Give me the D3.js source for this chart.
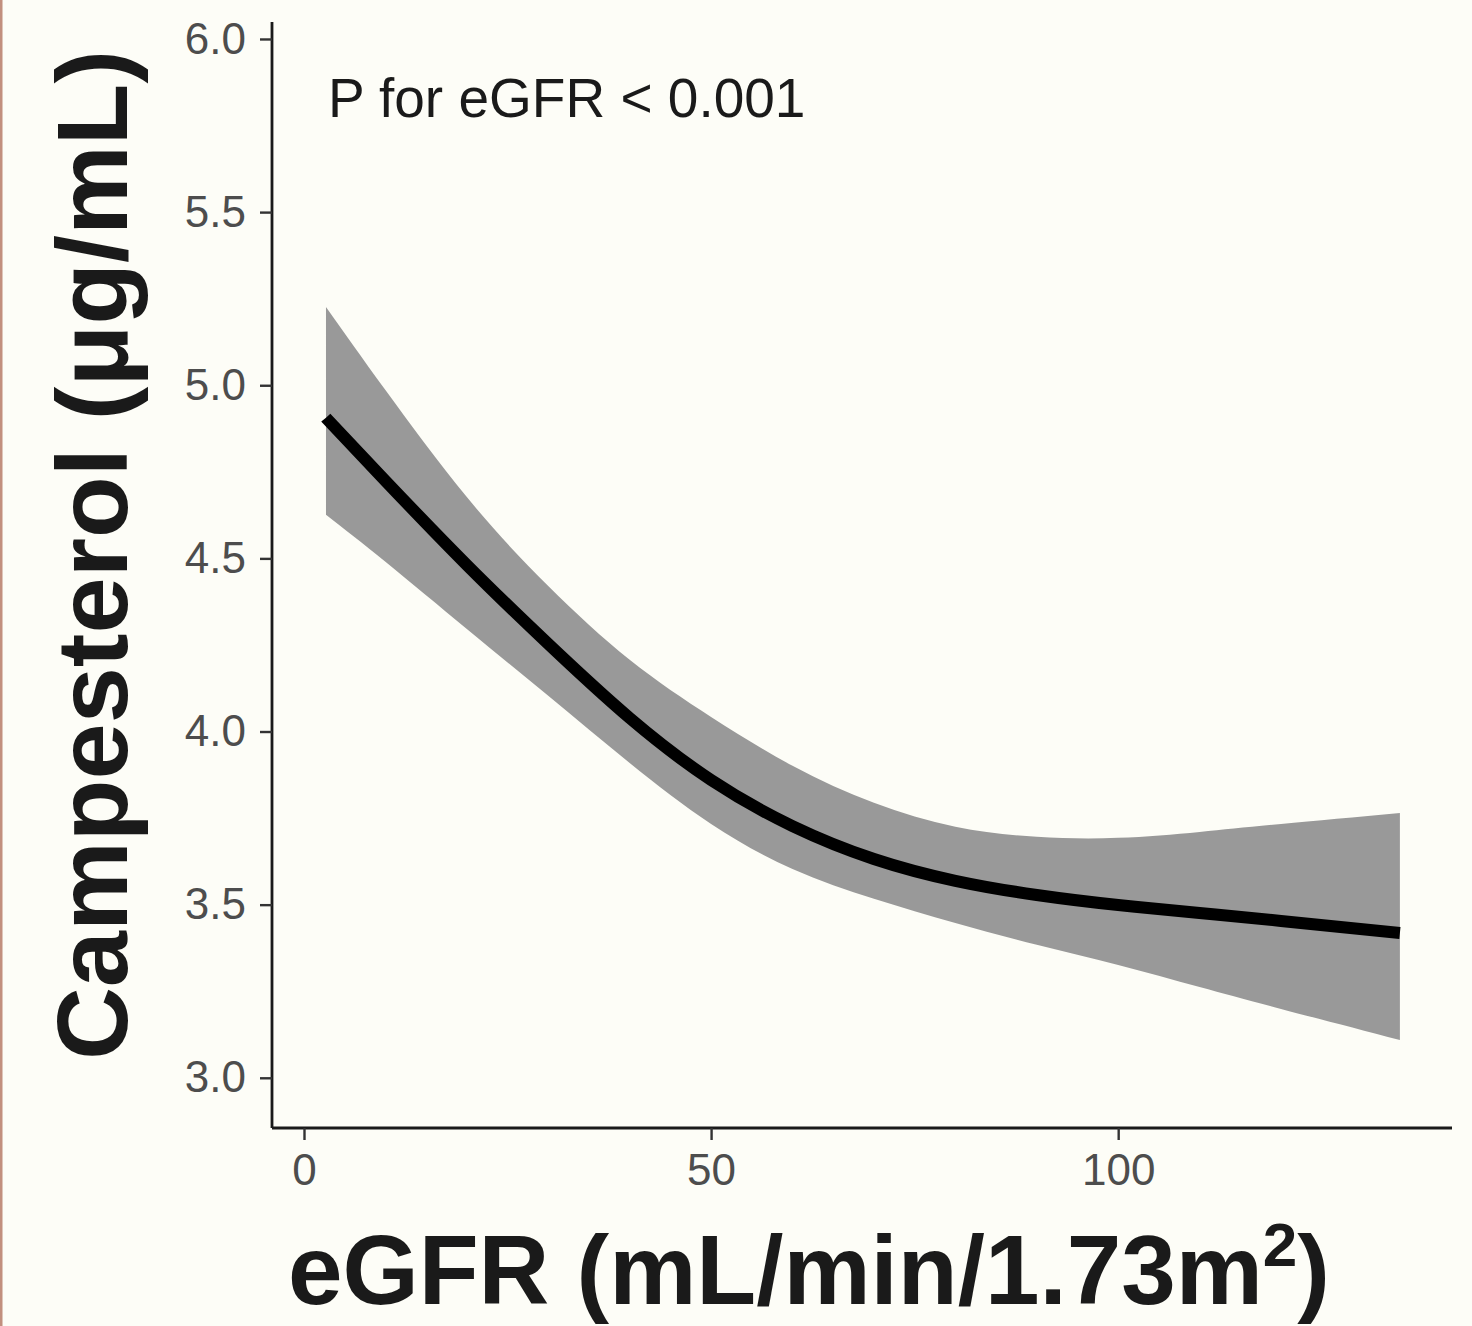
<!DOCTYPE html>
<html>
<head>
<meta charset="utf-8">
<script src="https://cdn.jsdelivr.net/npm/d3@7"></script>
<style>
  html, body { margin: 0; padding: 0; background: #fdfdf7; }
  svg { display: block; font-family: "Liberation Sans", Arial, sans-serif; }
</style>
</head>
<body>
<div id="chart"></div>
<script>
// eGFR grid and fitted campesterol values
const egfr = [2.7, 10, 20, 30, 40, 50, 60, 70, 80, 90, 100, 110, 120, 134.6];
const fit = [4.906, 4.724, 4.481, 4.253, 4.039, 3.860, 3.727, 3.632, 3.569, 3.528, 3.499, 3.476, 3.453, 3.418];
const upper = [5.226, 4.986, 4.677, 4.420, 4.207, 4.042, 3.901, 3.794, 3.725, 3.696, 3.693, 3.710, 3.733, 3.765];
const lower = [4.626, 4.490, 4.296, 4.103, 3.909, 3.733, 3.603, 3.517, 3.447, 3.384, 3.326, 3.262, 3.199, 3.109];

const xTicks = [0, 50, 100];
const yTicks = [3.0, 3.5, 4.0, 4.5, 5.0, 5.5, 6.0];

const width = 1472;
const height = 1326;
const panel = { left: 272, right: 1452, top: 22, bottom: 1128 };

const rows = egfr.map((e, i) => ({ e, fit: fit[i], lo: lower[i], hi: upper[i] }));

const x = d3.scaleLinear().domain([-3.93, 141.0]).range([panel.left, panel.right]);
const y = d3.scaleLinear().domain([2.855, 6.049]).range([panel.bottom, panel.top]);

const svg = d3.select("#chart")
  .append("svg")
  .attr("width", width)
  .attr("height", height);

svg.append("rect").attr("width", width).attr("height", height).attr("fill", "#fdfdf7");
svg.append("rect").attr("x", 0).attr("y", 0).attr("width", 2.5).attr("height", height).attr("fill", "#c2907f");

// confidence band
svg.append("path")
  .datum(rows)
  .attr("fill", "#999999")
  .attr("d", d3.area()
    .x((d) => x(d.e))
    .y0((d) => y(d.lo))
    .y1((d) => y(d.hi))
    .curve(d3.curveNatural));

// fitted line
svg.append("path")
  .datum(rows)
  .attr("fill", "none")
  .attr("stroke", "#000")
  .attr("stroke-width", 12)
  .attr("d", d3.line()
    .x((d) => x(d.e))
    .y((d) => y(d.fit))
    .curve(d3.curveNatural));

// axes
const xAxis = svg.append("g")
  .attr("transform", `translate(0,${panel.bottom})`)
  .call(d3.axisBottom(x).tickValues(xTicks).tickSize(12).tickPadding(14).tickFormat(d3.format("d")));

const yAxis = svg.append("g")
  .attr("transform", `translate(${panel.left},0)`)
  .call(d3.axisLeft(y).tickValues(yTicks).tickSize(12).tickPadding(14).tickFormat(d3.format(".1f")));

[xAxis, yAxis].forEach((g) => {
  g.select(".domain").attr("stroke", "#1a1a1a").attr("stroke-width", 2.8);
  g.selectAll(".tick line").attr("stroke", "#333").attr("stroke-width", 2.4);
  g.selectAll(".tick text")
    .attr("fill", "#4d4d4d")
    .attr("font-size", 44)
    .attr("font-family", "'Liberation Sans', Arial, sans-serif");
});
xAxis.select(".domain").attr("d", `M${panel.left},0H${panel.right}`);
yAxis.select(".domain").attr("d", `M0,${panel.top}V${panel.bottom}`);

// annotation
svg.append("text")
  .attr("x", 328)
  .attr("y", 117)
  .attr("font-size", 55)
  .attr("fill", "#1a1a1a")
  .text("P for eGFR < 0.001");

// axis titles
const xTitle = svg.append("text")
  .attr("x", 288)
  .attr("y", 1304)
  .attr("font-size", 98)
  .attr("font-weight", "bold")
  .attr("fill", "#1a1a1a");
xTitle.append("tspan").text("eGFR (mL/min/1.73m");
xTitle.append("tspan").attr("font-size", 62).attr("dy", -38).text("2");
xTitle.append("tspan").attr("dy", 38).text(")");

svg.append("text")
  .attr("transform", "translate(127,555) rotate(-90)")
  .attr("text-anchor", "middle")
  .attr("font-size", 101)
  .attr("font-weight", "bold")
  .attr("fill", "#1a1a1a")
  .text("Campesterol (μg/mL)");
</script>
</body>
</html>
